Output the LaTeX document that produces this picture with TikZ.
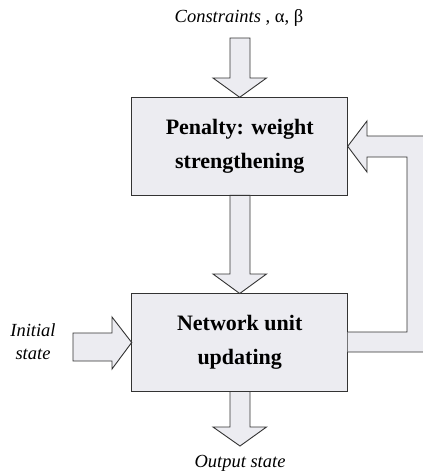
\documentclass[tikz,border=0pt]{standalone}
\usepackage{fontspec}
\setmainfont{Liberation Serif}
\begin{document}
\begin{tikzpicture}[x=1pt,y=-1pt,
  every node/.style={inner sep=0pt, outer sep=0pt},
  blockbox/.style={draw=linegray, fill=boxfill, line width=0.9pt, minimum width=216pt, minimum height=98pt, align=center, font=\fontsize{22}{34}\selectfont\bfseries},
  blockarrow/.style={draw=linegray, fill=boxfill, line width=0.9pt, line join=miter},
  lbl/.style={font=\fontsize{18.5}{23}\selectfont, align=center}]
\definecolor{boxfill}{HTML}{ECECF1}
\definecolor{linegray}{HTML}{333333}
\useasboundingbox (0,0) rectangle (423,472);
\node[blockbox] (pen) at (239.7,146.3) {Penalty: weight\\strengthening};
\node[blockbox] (net) at (239.7,342.5) {Network unit\\updating};
% top input arrow
\draw[blockarrow] (230,38) -- (250,38) -- (250,78) -- (266.5,78) -- (pen.north) -- (213,78) -- (230,78) -- cycle;
% middle arrow
\draw[blockarrow] (230,0 |- pen.south) -- (250,0 |- pen.south) -- (250,274) -- (266.5,274) -- (net.north) -- (213,274) -- (230,274) -- cycle;
% output arrow
\draw[blockarrow] (230,0 |- net.south) -- (250,0 |- net.south) -- (250,427) -- (266.5,427) -- (240,446) -- (213,427) -- (230,427) -- cycle;
% initial state arrow
\draw[blockarrow] (73,333) -- (112,333) -- (112,317) -- (net.west) -- (112,369) -- (112,361) -- (73,361) -- cycle;
% feedback arrow
\draw[blockarrow] (net.east |- 0,352) -- (428,352) -- (428,136) -- (367,136) -- (367,121) -- (pen.east) -- (367,172) -- (367,157) -- (407,157) -- (407,332) -- (net.east |- 0,332);
% labels
\node[lbl] (cons) at (239,18) {\textit{Constraints} , α, β};
\node[lbl] (init) at (33,342) {\textit{Initial}\\\textit{state}};
\node[lbl] (out) at (240,463) {\textit{Output state}};
\end{tikzpicture}
\end{document}
